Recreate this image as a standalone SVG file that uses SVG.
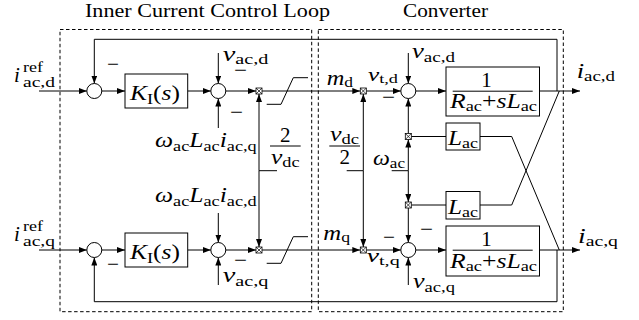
<svg xmlns="http://www.w3.org/2000/svg" width="639" height="320" viewBox="0 0 639 320">
<defs>
<style>
.ln{stroke:#000;stroke-width:1;fill:none}
.ar{marker-end:url(#ah)}
.blk{fill:#fff;stroke:#000;stroke-width:1}
.dash{fill:none;stroke:#000;stroke-width:1;stroke-dasharray:3.5 2.5}
text{font-family:'Liberation Serif','Times New Roman',Times,'DejaVu Serif',serif;fill:#000}
.t{font-size:21px}
.ti{font-size:19px}
.i{font-style:italic}
.s{font-size:15px;font-style:normal}
.mn{font-size:18px}
</style>
<marker id="ah" markerUnits="userSpaceOnUse" markerWidth="8" markerHeight="6" refX="8" refY="3" orient="auto">
<path d="M0,0 L8,3 L0,6 z" fill="#000"/>
</marker>
<g id="mul"><rect x="-3" y="-3" width="6" height="6" fill="#fff" stroke="#000" stroke-width="0.8"/><path d="M-3,-3 L3,3 M3,-3 L-3,3" stroke="#000" stroke-width="0.7"/></g>
</defs>
<rect width="639" height="320" fill="#fff"/>

<g id="frames">
<rect class="dash" x="60" y="29.5" width="251.7" height="282.2"/>
<rect class="dash" x="318.3" y="29.5" width="245" height="282.2"/>
<text class="ti" x="85" y="17" textLength="245" lengthAdjust="spacingAndGlyphs">Inner Current Control Loop</text>
<text class="ti" x="403" y="17" textLength="85" lengthAdjust="spacingAndGlyphs">Converter</text>
</g>

<g id="connectors">
<path class="ln ar" d="M39,91 H86.8"/>
<path class="ln ar" d="M101.8,91 H125"/>
<path class="ln ar" d="M187.7,91 H210.8"/>
<path class="ln ar" d="M225.8,91 H256"/>
<path class="ln ar" d="M262,91 H360.3"/>
<path class="ln ar" d="M366.3,91 H400.8"/>
<path class="ln ar" d="M415.8,91 H446"/>
<path class="ln ar" d="M539.5,91 H580"/>
<path class="ln ar" d="M557,91 V39.3 H94.3 V83.5"/>
<path class="ln ar" d="M218.3,53 V83.5"/>
<path class="ln ar" d="M218.3,128 V98.5"/>
<path class="ln ar" d="M408.3,53 V83.5"/>
<path class="ln ar" d="M408.3,133.5 V98.5"/>
<path class="ln" d="M266.7,104.3 H281 L293.3,77.7 H308"/>
<path class="ln ar" d="M39,250 H86.8"/>
<path class="ln ar" d="M101.8,250 H125"/>
<path class="ln ar" d="M187.7,250 H210.8"/>
<path class="ln ar" d="M225.8,250 H256"/>
<path class="ln ar" d="M262,250 H360.3"/>
<path class="ln ar" d="M366.3,250 H400.8"/>
<path class="ln ar" d="M415.8,250 H446"/>
<path class="ln ar" d="M539.5,250 H580"/>
<path class="ln ar" d="M557,250 V301.7 H94.3 V257.5"/>
<path class="ln ar" d="M218.3,213 V242.5"/>
<path class="ln ar" d="M218.3,285 V257.5"/>
<path class="ln ar" d="M408.3,208 V242.5"/>
<path class="ln ar" d="M408.3,285 V257.5"/>
<path class="ln" d="M266.7,263.3 H281 L293.3,236.7 H308"/>
<path class="ln ar" d="M259,170.7 V94"/>
<path class="ln ar" d="M259,170.7 V247"/>
<path class="ln" d="M259,170.7 H277"/>
<path class="ln ar" d="M363.3,170.7 V94"/>
<path class="ln ar" d="M363.3,170.7 V247"/>
<path class="ln" d="M346.7,170.7 H363.3"/>
<path class="ln ar" d="M408.3,170.7 V139.5"/>
<path class="ln ar" d="M408.3,170.7 V202"/>
<path class="ln" d="M391.7,170.7 H408.3"/>
<path class="ln" d="M411.3,136.5 H446"/>
<path class="ln" d="M480,136.5 H511.7 L559.3,250"/>
<path class="ln" d="M411.3,205 H446"/>
<path class="ln" d="M480,205 H511.7 L559.3,91"/>
</g>

<g id="sum_d1"><circle class="blk" cx="94.3" cy="91" r="7.5"/></g>
<g id="sum_d2"><circle class="blk" cx="218.3" cy="91" r="7.5"/></g>
<g id="sum_d3"><circle class="blk" cx="408.3" cy="91" r="7.5"/></g>
<g id="sum_q1"><circle class="blk" cx="94.3" cy="250" r="7.5"/></g>
<g id="sum_q2"><circle class="blk" cx="218.3" cy="250" r="7.5"/></g>
<g id="sum_q3"><circle class="blk" cx="408.3" cy="250" r="7.5"/></g>

<g id="mul_d1"><use href="#mul" x="259" y="91"/></g>
<g id="mul_d2"><use href="#mul" x="363.3" y="91"/></g>
<g id="mul_d3"><use href="#mul" x="408.3" y="136.5"/></g>
<g id="mul_q1"><use href="#mul" x="259" y="250"/></g>
<g id="mul_q2"><use href="#mul" x="363.3" y="250"/></g>
<g id="mul_q3"><use href="#mul" x="408.3" y="205"/></g>

<g id="ki_d"><rect class="blk" x="125" y="74" width="62.7" height="34"/>
<text class="t" x="130" y="100" textLength="50" lengthAdjust="spacingAndGlyphs"><tspan class="i">K</tspan><tspan class="s" dy="4">I</tspan><tspan dy="-4">(</tspan><tspan class="i">s</tspan>)</text></g>
<g id="ki_q"><rect class="blk" x="125" y="233" width="62.7" height="34"/>
<text class="t" x="130" y="259" textLength="50" lengthAdjust="spacingAndGlyphs"><tspan class="i">K</tspan><tspan class="s" dy="4">I</tspan><tspan dy="-4">(</tspan><tspan class="i">s</tspan>)</text></g>

<g id="plant_d"><rect class="blk" x="446" y="67" width="93.5" height="49"/>
<text class="t" x="486.5" y="87" text-anchor="middle">1</text>
<path class="ln" d="M452.7,91.2 H532.7"/>
<text class="t" x="450" y="108" textLength="87" lengthAdjust="spacingAndGlyphs"><tspan class="i">R</tspan><tspan class="s" dy="3">ac</tspan><tspan dy="-3">+</tspan><tspan class="i">sL</tspan><tspan class="s" dy="3">ac</tspan></text></g>
<g id="plant_q"><rect class="blk" x="446" y="226" width="93.5" height="50"/>
<text class="t" x="486.5" y="246" text-anchor="middle">1</text>
<path class="ln" d="M452.7,250.2 H532.7"/>
<text class="t" x="450" y="268" textLength="87" lengthAdjust="spacingAndGlyphs"><tspan class="i">R</tspan><tspan class="s" dy="3">ac</tspan><tspan dy="-3">+</tspan><tspan class="i">sL</tspan><tspan class="s" dy="3">ac</tspan></text></g>

<g id="lac_d"><rect class="blk" x="446" y="123" width="34" height="27"/>
<text class="t" x="448" y="145" textLength="30" lengthAdjust="spacingAndGlyphs"><tspan class="i">L</tspan><tspan class="s" dy="3">ac</tspan></text></g>
<g id="lac_q"><rect class="blk" x="446" y="191.5" width="34" height="27.5"/>
<text class="t" x="448" y="213.5" textLength="30" lengthAdjust="spacingAndGlyphs"><tspan class="i">L</tspan><tspan class="s" dy="3">ac</tspan></text></g>

<g id="labels">
<text class="t i" x="14" y="82">i</text>
<text class="t s" x="23" y="71.5" textLength="20" lengthAdjust="spacingAndGlyphs">ref</text>
<text class="t s" x="23" y="87" textLength="32" lengthAdjust="spacingAndGlyphs">ac,d</text>
<text class="t i" x="14" y="241">i</text>
<text class="t s" x="23" y="230.5" textLength="20" lengthAdjust="spacingAndGlyphs">ref</text>
<text class="t s" x="23" y="245.5" textLength="32" lengthAdjust="spacingAndGlyphs">ac,q</text>

<text class="t" x="222.7" y="61" textLength="45.6" lengthAdjust="spacingAndGlyphs"><tspan class="i">v</tspan><tspan class="s" dy="3">ac,d</tspan></text>
<text class="t" x="222.7" y="282" textLength="45.6" lengthAdjust="spacingAndGlyphs"><tspan class="i">v</tspan><tspan class="s" dy="4">ac,q</tspan></text>
<text class="t" x="155" y="147" textLength="101.7" lengthAdjust="spacingAndGlyphs"><tspan class="i">ω</tspan><tspan class="s" dy="4">ac</tspan><tspan class="i" dy="-4">L</tspan><tspan class="s" dy="4">ac</tspan><tspan class="i" dy="-4">i</tspan><tspan class="s" dy="4">ac,q</tspan></text>
<text class="t" x="155" y="202" textLength="101.7" lengthAdjust="spacingAndGlyphs"><tspan class="i">ω</tspan><tspan class="s" dy="4">ac</tspan><tspan class="i" dy="-4">L</tspan><tspan class="s" dy="4">ac</tspan><tspan class="i" dy="-4">i</tspan><tspan class="s" dy="4">ac,d</tspan></text>

<text class="t" x="285.3" y="141.7" text-anchor="middle">2</text>
<path class="ln" d="M270,146 H300.7"/>
<text class="t" x="271" y="163.5" textLength="28.5" lengthAdjust="spacingAndGlyphs"><tspan class="i">v</tspan><tspan class="s" dy="3">dc</tspan></text>

<text class="t" x="330" y="141" textLength="29" lengthAdjust="spacingAndGlyphs"><tspan class="i">v</tspan><tspan class="s" dy="3">dc</tspan></text>
<path class="ln" d="M329.3,146 H360"/>
<text class="t" x="344.7" y="164" text-anchor="middle">2</text>

<text class="t" x="326.7" y="85" textLength="26.3" lengthAdjust="spacingAndGlyphs"><tspan class="i">m</tspan><tspan class="s" dy="2">d</tspan></text>
<text class="t" x="323.3" y="240" textLength="26.7" lengthAdjust="spacingAndGlyphs"><tspan class="i">m</tspan><tspan class="s" dy="2">q</tspan></text>

<text class="t" x="368" y="81" textLength="30" lengthAdjust="spacingAndGlyphs" style="font-size:18px"><tspan class="i">v</tspan><tspan class="s" dy="2" style="font-size:13px">t,d</tspan></text>
<text class="t" x="366.7" y="262" textLength="33" lengthAdjust="spacingAndGlyphs" style="font-size:18px"><tspan class="i">v</tspan><tspan class="s" dy="3" style="font-size:13px">t,q</tspan></text>

<text class="t" x="412" y="58" textLength="43" lengthAdjust="spacingAndGlyphs"><tspan class="i">v</tspan><tspan class="s" dy="4">ac,d</tspan></text>
<text class="t" x="413" y="288" textLength="42" lengthAdjust="spacingAndGlyphs"><tspan class="i">v</tspan><tspan class="s" dy="4">ac,q</tspan></text>
<text class="t" x="373" y="165" textLength="32" lengthAdjust="spacingAndGlyphs"><tspan class="i">ω</tspan><tspan class="s" dy="3">ac</tspan></text>

<text class="t" x="576.7" y="78" textLength="38.3" lengthAdjust="spacingAndGlyphs"><tspan class="i">i</tspan><tspan class="s" dy="3">ac,d</tspan></text>
<text class="t" x="578" y="243" textLength="40" lengthAdjust="spacingAndGlyphs"><tspan class="i">i</tspan><tspan class="s" dy="3">ac,q</tspan></text>

<text class="mn" x="107" y="69.5" textLength="12" lengthAdjust="spacingAndGlyphs">−</text>
<text class="mn" x="234" y="76.2" textLength="13" lengthAdjust="spacingAndGlyphs">−</text>
<text class="mn" x="230" y="117.5" textLength="13" lengthAdjust="spacingAndGlyphs">−</text>
<text class="mn" x="382" y="102.8" textLength="13" lengthAdjust="spacingAndGlyphs">−</text>
<text class="mn" x="107" y="269.5" textLength="12" lengthAdjust="spacingAndGlyphs">−</text>
<text class="mn" x="234" y="266.2" textLength="13" lengthAdjust="spacingAndGlyphs">−</text>
<text class="mn" x="383" y="242.8" textLength="12" lengthAdjust="spacingAndGlyphs">−</text>
<text class="mn" x="420" y="235.2" textLength="13" lengthAdjust="spacingAndGlyphs">−</text>
</g>
</svg>
